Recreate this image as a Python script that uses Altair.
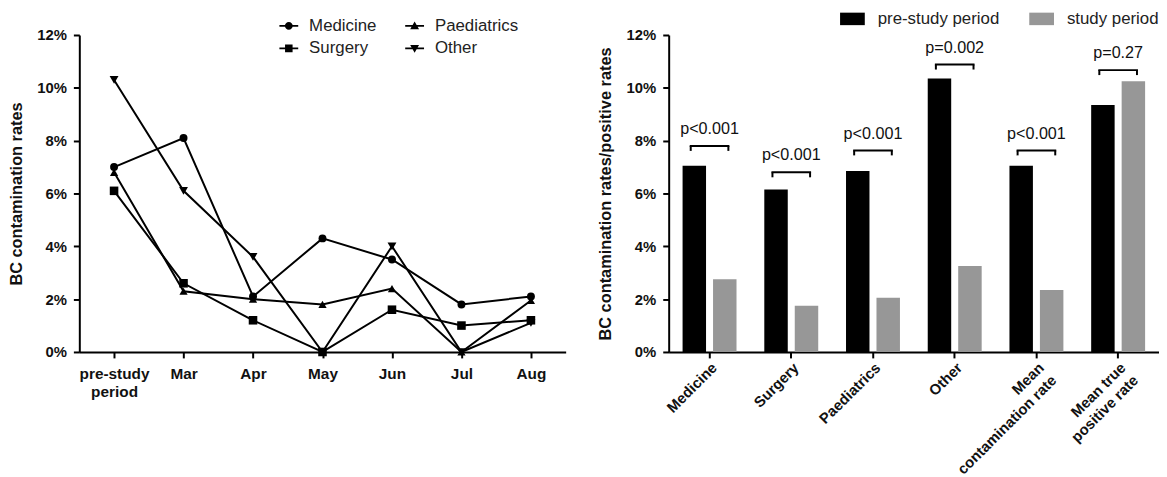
import altair as alt
import pandas as pd

FONT = "Liberation Sans"

# ---------------- left chart data ----------------
months = ["pre-study|period", "Mar", "Apr", "May", "Jun", "Jul", "Aug"]
series_order = ["Medicine", "Paediatrics", "Surgery", "Other"]
medicine = [7.0, 8.1, 2.1, 4.3, 3.5, 1.8, 2.1]
paediatrics = [6.8, 2.3, 2.0, 1.8, 2.4, 0.0, 1.95]
surgery = [6.1, 2.6, 1.2, 0.0, 1.6, 1.0, 1.2]
other = [10.3, 6.1, 3.6, 0.0, 4.0, 0.0, 1.1]

# ---------------- right chart data ----------------
categories = ["Medicine", "Surgery", "Paediatrics", "Other",
              "Mean|contamination rate", "Mean true|positive rate"]
periods = ["pre-study period", "study period"]
pre_study = [7.05, 6.15, 6.85, 10.35, 7.05, 9.35]
study = [2.75, 1.75, 2.05, 3.25, 2.35, 10.25]
p_labels = ["p<0.001", "p<0.001", "p<0.001", "p=0.002", "p<0.001", "p=0.27"]
p_bracket = [7.8, 6.8, 7.63, 10.88, 7.63, 10.67]

rows = []
for name, vals in zip(series_order, [medicine, paediatrics, surgery, other]):
    for m, v in zip(months, vals):
        rows.append({"month": m, "series": name, "rate": v})
df_left = pd.DataFrame(rows)

rows = []
for c, a, b in zip(categories, pre_study, study):
    rows.append({"cat": c, "period": periods[0], "value": a})
    rows.append({"cat": c, "period": periods[1], "value": b})
df_right = pd.DataFrame(rows)
df_p = pd.DataFrame({"cat": categories, "label": p_labels, "bracket": p_bracket})

H = 320
TOP = 33  # plot top in page pixels, used for legend offsets

y_axis_common = dict(values=[0, 2, 4, 6, 8, 10, 12], labelExpr="datum.value + '%'",
                     grid=False, titleFontSize=16.5, titleFontWeight="bold",
                     titleFont=FONT, titleColor="#111", labelFontSize=15)

# ---------------- left chart ----------------
xl = alt.X("month:N", sort=months, scale=alt.Scale(type="point", padding=0.5),
           axis=alt.Axis(title=None, labelAngle=0, labelExpr="split(datum.label, '|')",
                         labelBaseline="top", labelPadding=9, labelLineHeight=18,
                         labelFontSize=15.5))
yl = alt.Y("rate:Q", scale=alt.Scale(domain=[0, 12], nice=False),
           axis=alt.Axis(title="BC contamination rates", titlePadding=12, **y_axis_common))

base_left = alt.Chart(df_left)
lines = base_left.mark_line(color="black", strokeWidth=2).encode(
    x=xl, y=yl, detail="series:N")
points = base_left.mark_point(filled=True, color="black", opacity=1).encode(
    x=xl, y=yl,
    shape=alt.Shape("series:N", scale=alt.Scale(domain=series_order,
                    range=["circle", "triangle-up", "square", "triangle-down"]), legend=None),
    size=alt.Size("series:N", scale=alt.Scale(domain=series_order, range=[64, 80, 70, 80]),
                  legend=None))

# legend glyphs: a 2px line with the marker in its middle (same winding so they union)
line_p = "M-1,-0.1H1V0.1H-1Z"
circle_p = "M0.42,0A0.42,0.42 0 1,1 -0.42,0A0.42,0.42 0 1,1 0.42,0Z"
square_p = "M-0.4,-0.4H0.4V0.4H-0.4Z"
tri_up_p = "M0,-0.47L0.47,0.37H-0.47Z"
tri_dn_p = "M0,0.47L-0.47,-0.37H0.47Z"
# the legend fills column by column: Medicine/Surgery in column 1, Paediatrics/Other in 2
legend_order = ["Medicine", "Surgery", "Paediatrics", "Other"]
legend_paths = [line_p + circle_p, line_p + square_p, line_p + tri_up_p, line_p + tri_dn_p]

legend_layer = base_left.transform_filter("datum.rate < -1").mark_point(
    filled=True, color="black", opacity=1).encode(
    x=xl, y=yl,
    shape=alt.Shape("series:N", scale=alt.Scale(domain=legend_order, range=legend_paths),
                    legend=alt.Legend(orient="none", legendX=202, legendY=24 - TOP - 10,
                                      columns=2, title=None, symbolSize=361,
                                      symbolStrokeWidth=0, symbolFillColor="black",
                                      labelFontSize=17, labelFont=FONT, labelColor="#222",
                                      labelFontWeight="normal", labelOffset=11,
                                      columnPadding=28, rowPadding=5)))

left = alt.layer(lines, points, legend_layer).resolve_scale(
    shape="independent", size="independent").properties(width=491, height=H)

# ---------------- right chart ----------------
NB = "\u00a0"
label_expr = ("split(replace(replace(datum.label, 'Mean|', 'Mean" + NB * 11 + "|'), "
              "'true|', 'true" + NB * 2 + "|'), '|')")
xr = alt.X("cat:N", sort=categories, scale=alt.Scale(paddingInner=0.34, paddingOuter=0.17),
           axis=alt.Axis(title=None, labelAngle=-45, labelAlign="right", labelBaseline="top",
                         labelExpr=label_expr, labelPadding=2, labelLineHeight=18,
                         labelFontSize=15))
yr = alt.Y("value:Q", scale=alt.Scale(domain=[0, 12], nice=False),
           axis=alt.Axis(title="BC contamination rates/positive rates", titlePadding=13,
                         **y_axis_common))

bars = alt.Chart(df_right).mark_bar().encode(
    x=xr,
    xOffset=alt.XOffset("period:N", sort=periods,
                        scale=alt.Scale(paddingInner=0.23, paddingOuter=0)),
    y=yr,
    color=alt.Color("period:N", scale=alt.Scale(domain=periods, range=["#000000", "#979797"]),
                    legend=alt.Legend(orient="none", legendX=772, legendY=8 - TOP,
                                      direction="horizontal", title=None,
                                      symbolType="M-1.92,-0.97H1.92V0.97H-1.92Z",
                                      symbolSize=169,
                                      labelFontSize=17, labelFont=FONT, labelColor="#222",
                                      labelFontWeight="normal", labelOffset=17,
                                      columnPadding=30, symbolOpacity=1)))

pbase = alt.Chart(df_p)
ybr = alt.Y("bracket:Q", scale=alt.Scale(domain=[0, 12], nice=False))
bracket_h = pbase.mark_tick(orient="horizontal", size=40, thickness=2, color="black",
                            opacity=1).encode(x=alt.X("cat:N", sort=categories), y=ybr)
bracket_l = pbase.mark_rule(color="black", strokeWidth=2, xOffset=-19, y2Offset=5).encode(
    x=alt.X("cat:N", sort=categories), y=ybr, y2="bracket:Q")
bracket_r = pbase.mark_rule(color="black", strokeWidth=2, xOffset=19, y2Offset=5).encode(
    x=alt.X("cat:N", sort=categories), y=ybr, y2="bracket:Q")
p_text = pbase.mark_text(fontSize=16.3, font=FONT, dy=-17, baseline="middle",
                         color="#111").encode(
    x=alt.X("cat:N", sort=categories), y=ybr, text="label:N")

right = alt.layer(bars, bracket_h, bracket_l, bracket_r, p_text).properties(width=495, height=H)

chart = alt.hconcat(left, right, spacing=31).properties(padding=0).configure_view(
    stroke=None
).configure_axis(
    domainColor="black", domainWidth=2, tickColor="black", tickWidth=2, tickSize=6,
    labelFont=FONT, labelFontSize=15, labelFontWeight="bold", labelColor="#111",
    labelPadding=7, titleFont=FONT
)

chart.save("out.html", embed_options={"renderer": "svg", "actions": False})
